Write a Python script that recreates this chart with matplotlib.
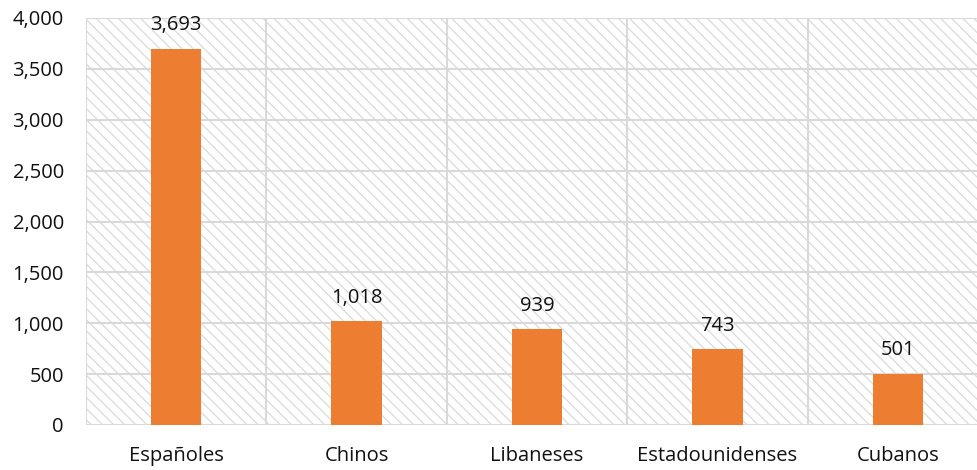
import matplotlib
matplotlib.use("Agg")
import matplotlib.pyplot as plt
from matplotlib.patches import Rectangle
from matplotlib.ticker import FuncFormatter, MultipleLocator

categories = ["Españoles", "Chinos", "Libaneses", "Estadounidenses", "Cubanos"]
values = [3693, 1018, 939, 743, 501]

plt.rcParams['font.family'] = ['Open Sans', 'DejaVu Sans']
plt.rcParams['hatch.linewidth'] = 0.9

fig = plt.figure(figsize=(9.78, 4.70), dpi=100)
ax = fig.add_axes([86/978, 1-425/470, 902/978, (425-18)/470])

ax.add_patch(Rectangle((0, 0), 1, 1, transform=ax.transAxes, facecolor='white',
                       edgecolor='#dadada', lw=0, hatch='\\\\\\', zorder=0))

x = list(range(len(categories)))
bars = ax.bar(x, values, width=0.28, color='#ED7D31', zorder=3)
for xi, v in zip(x, values):
    ax.annotate(f"{v:,}", (xi, v), xytext=(0, 10), textcoords='offset points',
                ha='center', va='bottom', fontsize=14.5, color='#111111')

ax.set_xlim(-0.5, len(categories) - 0.5)
ax.set_ylim(0, 4000)
ax.yaxis.set_major_locator(MultipleLocator(500))
ax.yaxis.set_major_formatter(FuncFormatter(lambda v, p: f"{int(v):,}"))
ax.set_xticks(x)
ax.set_xticklabels(categories)
ax.tick_params(axis='both', length=0, labelsize=14.5, colors='#111111')
ax.tick_params(axis='x', pad=15)
ax.tick_params(axis='y', pad=16)

for yv in range(0, 4001, 500):
    ax.axhline(yv, color='#d9d9d9', lw=1.5, zorder=1)
for b in [i - 0.5 for i in range(len(categories) + 1)]:
    ax.axvline(b, color='#d9d9d9', lw=1.5, zorder=1)

for s in ax.spines.values():
    s.set_visible(False)

fig.savefig("out.png", dpi=100)
